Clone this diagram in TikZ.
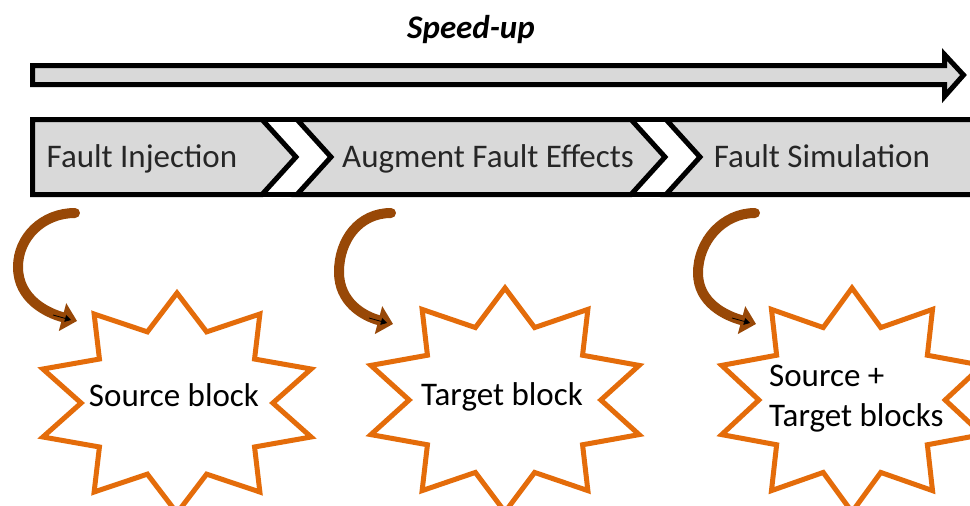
\documentclass[tikz,border=0pt]{standalone}
\usepackage{fontspec}
\setmainfont{Carlito}
\usetikzlibrary{arrows.meta}
\definecolor{barfill}{HTML}{D9D9D9}
\definecolor{burst}{HTML}{E46C0A}
\definecolor{curl}{HTML}{984807}
\definecolor{ink}{HTML}{262626}
\newcommand{\drawburst}[4]{%
  \path[burstline] (#1,{#2-#4})
    \foreach \k in {1,...,19}{
      -- ({#1+(isodd(\k)?0.68:1)*#3*cos(-90+18*\k)},{#2+(isodd(\k)?0.68:1)*#4*sin(-90+18*\k)})
    } -- cycle;}
\begin{document}
\begin{tikzpicture}[x=1pt,y=-1pt,
  outline/.style={draw=black, line width=5pt, fill=barfill, line join=miter},
  txt/.style={font=\fontsize{33}{40}\selectfont, text=ink, anchor=base, inner sep=0pt},
  burstline/.style={draw=burst, line width=5pt, fill=white, line join=miter},
  curlarrow/.style={draw=curl, line width=10pt, line cap=round, -{Triangle[length=15pt,width=28pt]}},
  innertip/.style={draw=black, line width=0.8pt, -{Triangle[length=6pt,width=7pt]}},
]
\path[use as bounding box] (0,0) rectangle (970,506);
\clip (0,0) rectangle (970,506);
\fill[white] (0,0) rectangle (970,506);

% speed-up arrow
\node[txt, font=\fontsize{33}{40}\selectfont\bfseries\itshape, text=black] (speed) at (471,38) {Speed-up};
\draw[outline] (32.5,65.5) -- (944.5,65.5) -- (944.5,54.5) -- (963.5,75) -- (944.5,96.5) -- (944.5,84.5) -- (32.5,84.5) -- cycle;

% chevron bar
\draw[outline] (32.5,119.5) -- (262,119.5) -- (296,157) -- (262,194.5) -- (32.5,194.5) -- cycle;
\draw[outline] (297,119.5) -- (631,119.5) -- (665,157) -- (631,194.5) -- (297,194.5) -- (331,157) -- cycle;
\draw[outline] (666,119.5) -- (1000,119.5) -- (1000,194.5) -- (666,194.5) -- (700,157) -- cycle;
\draw[black, line width=5pt] (32.5,119.5) -- (1000,119.5);
\draw[black, line width=5pt] (32.5,194.5) -- (1000,194.5);
\node[txt] (fi) at (142,167) {Fault Injection};
\node[txt] (afe) at (488,167) {Augment Fault Effects};
\node[txt] (fs) at (822,167) {Fault Simulation};

% bursts
\drawburst{177}{403}{141}{110}
\drawburst{505}{400}{141}{112}
\drawburst{852}{400}{137}{112}
\node[txt, text=black] (src) at (174,406) {Source block};
\node[txt, text=black] (tgt) at (502,405) {Target block};
\node[txt, text=black, anchor=north west, align=left, font=\fontsize{33}{40}\selectfont] (both) at (769,365) {Source +\\Target blocks};

% curved arrows
\coordinate (c1) at (75,213);
\coordinate (c2) at (391,213);
\coordinate (c3) at (755,213);
\draw[curlarrow] (c1) .. controls +(-32,0) and +(0,-30) .. ++(-57,54) .. controls +(0,32) and +(-30,-8) .. ++(59,54) coordinate (t1);
\draw[curlarrow] (c2) .. controls +(-32,0) and +(0,-32) .. ++(-52,59) .. controls +(0,30) and +(-30,-8) .. ++(54,52) coordinate (t2);
\draw[curlarrow] (c3) .. controls +(-32,0) and +(0,-32) .. ++(-57,60) .. controls +(0,30) and +(-30,-8) .. ++(58,51) coordinate (t3);
\draw[innertip] ([shift={(-24,-6)}]t1) -- ([shift={(-6,-1)}]t1);
\draw[innertip] ([shift={(-24,-6)}]t2) -- ([shift={(-6,-1)}]t2);
\draw[innertip] ([shift={(-24,-6)}]t3) -- ([shift={(-6,-1)}]t3);
\end{tikzpicture}
\end{document}
